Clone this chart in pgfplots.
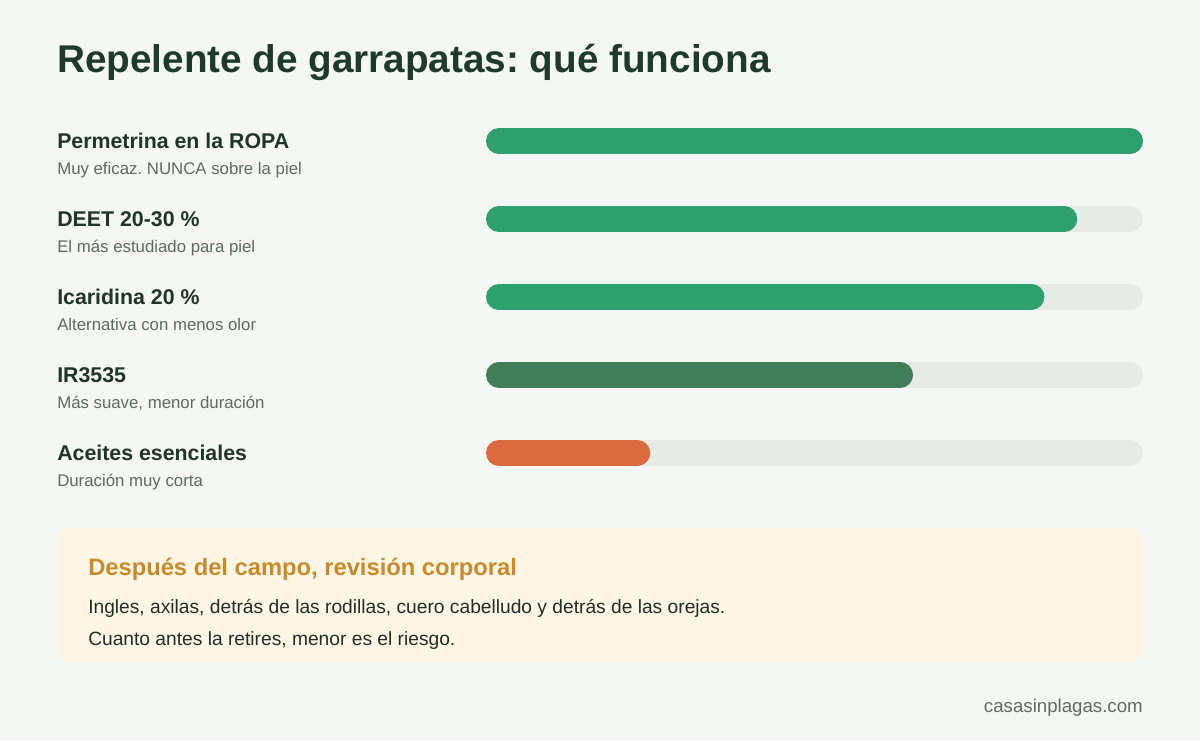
\documentclass[border=0pt]{standalone}
\usepackage{pgfplots}
\pgfplotsset{compat=1.18}
\usepackage{fontspec}
\setmainfont{Liberation Sans}
\frenchspacing
\definecolor{bg}{HTML}{F5F7F4}
\definecolor{titlec}{HTML}{1D3A2B}
\definecolor{labc}{HTML}{1F3529}
\definecolor{subc}{HTML}{5C6B63}
\definecolor{track}{HTML}{E6EBE6}
\definecolor{gbar}{HTML}{2EA06D}
\definecolor{dbar}{HTML}{3F7D5B}
\definecolor{obar}{HTML}{DB6A3F}
\definecolor{boxc}{HTML}{FFF6E5}
\definecolor{boxt}{HTML}{C98A2C}
\definecolor{boxtext}{HTML}{1F2F26}
\definecolor{footc}{HTML}{5F6B65}
\begin{document}
\frenchspacing
\begin{tikzpicture}[x=0.75pt,y=-0.75pt]
\fill[bg] (0,0) rectangle (1200,740);
\node[anchor=base west,inner sep=0,font=\fontsize{29}{34}\selectfont\bfseries,text=titlec] at (57,72) {Repelente de garrapatas: qué funciona};
% labels
\foreach \t/\s/\y in {Permetrina en la ROPA/Muy eficaz. NUNCA sobre la piel/0,
  DEET 20-30 \%/El más estudiado para piel/1,
  Icaridina 20 \%/Alternativa con menos olor/2,
  IR3535/Más suave{,} menor duración/3,
  Aceites esenciales/Duración muy corta/4}{
  \node[anchor=base west,inner sep=0,font=\fontsize{16}{19}\selectfont\bfseries,text=labc] at (57,148+78*\y) {\t};
  \node[anchor=base west,inner sep=0,font=\fontsize{12.6}{15}\selectfont,text=subc] at (57,174+78*\y) {\s};
}
\begin{axis}[at={(364.5pt,-339.75pt)}, anchor=south west, scale only axis,
  width=492.75pt, height=234pt, xmin=0, xmax=100, ymin=0, ymax=4,
  y dir=reverse, hide axis, clip=false,
  every axis plot/.append style={line width=19.5pt, line cap=round, shorten <=9.75pt, shorten >=9.75pt, mark=none}]
\addplot[track] coordinates {(0,0) (100,0)};
\addplot[track] coordinates {(0,1) (100,1)};
\addplot[track] coordinates {(0,2) (100,2)};
\addplot[track] coordinates {(0,3) (100,3)};
\addplot[track] coordinates {(0,4) (100,4)};
\addplot[gbar] coordinates {(0,0) (100,0)};
\addplot[gbar] coordinates {(0,1) (90,1)};
\addplot[gbar] coordinates {(0,2) (85,2)};
\addplot[dbar] coordinates {(0,3) (65,3)};
\addplot[obar] coordinates {(0,4) (25,4)};
\end{axis}
\fill[boxc, rounded corners=9pt] (57,528) rectangle (1143,662);
\node[anchor=base west,inner sep=0,font=\fontsize{17.8}{21}\selectfont\bfseries,text=boxt] at (88,575) {Después del campo, revisión corporal};
\node[anchor=base west,inner sep=0,font=\fontsize{14.4}{17}\selectfont,text=boxtext] at (88,613) {Ingles, axilas, detrás de las rodillas, cuero cabelludo y detrás de las orejas.};
\node[anchor=base west,inner sep=0,font=\fontsize{14.4}{17}\selectfont,text=boxtext] at (88,645) {Cuanto antes la retires, menor es el riesgo.};
\node[anchor=base east,inner sep=0,font=\fontsize{14}{17}\selectfont,text=footc] at (1143,712) {casasinplagas.com};
\end{tikzpicture}
\end{document}
